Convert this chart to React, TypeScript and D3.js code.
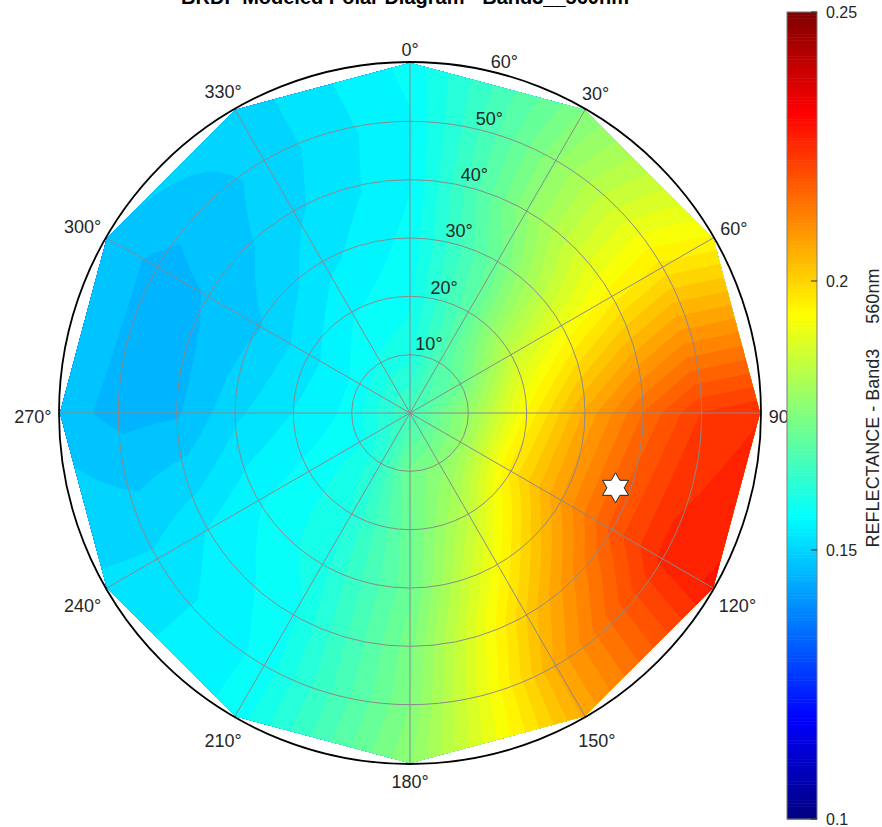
import { useEffect, useRef } from "react";
import * as d3 from "d3";

// grid of the BRDF model: view zenith (deg) x relative azimuth (deg, clockwise from north)
const zeniths = [0, 10, 20, 30, 40, 50, 60];
const azimuths = [0, 30, 60, 90, 120, 150, 180, 210, 240, 270, 300, 330];

// reflectance, one array per zenith ring (azimuth order above)
const centerValue = 0.166;
const ring10 = [0.160, 0.168, 0.172, 0.178, 0.178, 0.176, 0.173, 0.163, 0.158, 0.157, 0.157, 0.159];
const ring20 = [0.158, 0.170, 0.185, 0.194, 0.197, 0.184, 0.172, 0.161, 0.157, 0.154, 0.153, 0.156];
const ring30 = [0.157, 0.172, 0.191, 0.206, 0.208, 0.193, 0.172, 0.160, 0.156, 0.151, 0.149, 0.153];
const ring40 = [0.156, 0.177, 0.195, 0.215, 0.218, 0.201, 0.174, 0.158, 0.154, 0.1465, 0.147, 0.151];
const ring50 = [0.156, 0.177, 0.197, 0.222, 0.225, 0.206, 0.175, 0.157, 0.152, 0.146, 0.146, 0.150];
const ring60 = [0.157, 0.175, 0.194, 0.224, 0.227, 0.206, 0.177, 0.157, 0.152, 0.148, 0.149, 0.150];

const ringTicks = [10, 20, 30, 40, 50, 60];
const angleTicks = [0, 30, 60, 90, 120, 150, 180, 210, 240, 270, 300, 330];
const cbTicks = [0.1, 0.15, 0.2, 0.25];
const cbDomain = [0.1, 0.25];

// solar position marker
const sunZenith = 37.5;
const sunAzimuth = 110;

const titleText = "BRDF Modeled Polar Diagram - Band3__560nm";
const cbLabel = "REFLECTANCE - Band3     560nm";

function jet(t: number) {
  const c = (x: number) => Math.max(0, Math.min(1, x));
  const r = c(1.5 - Math.abs(4 * t - 3));
  const g = c(1.5 - Math.abs(4 * t - 2));
  const b = c(1.5 - Math.abs(4 * t - 1));
  return d3.rgb(r * 255, g * 255, b * 255).formatHex();
}

export default function App() {
  const svgRef = useRef<SVGSVGElement | null>(null);

  useEffect(() => {
    const svgEl = svgRef.current;
    if (!svgEl) return;
    const svg = d3.select(svgEl);
    svg.selectAll("*").remove();

    const width = 882;
    const height = 827;
    const cx = 410;
    const cy = 413;
    const font = "'Liberation Sans', Arial, Helvetica, sans-serif";
    const textColor = "#262626";

    const r = d3.scaleLinear().domain([0, 60]).range([0, 350]);
    const nLevels = 64;
    const thresholds = d3.range(nLevels).map((k) => cbDomain[0] + ((cbDomain[1] - cbDomain[0]) * k) / nLevels);
    const pos = (zen: number, az: number): [number, number] => {
      const a = (az * Math.PI) / 180;
      return [cx + r(zen) * Math.sin(a), cy - r(zen) * Math.cos(a)];
    };

    svg.attr("viewBox", `0 0 ${width} ${height}`);

    // values table built from the ring arrays
    const rows = [azimuths.map(() => centerValue), ring10, ring20, ring30, ring40, ring50, ring60];
    const half = Math.PI / 12; // half sector (15 deg)

    // value at a screen point: exact inverse of the straight-edged (trapezoid) bilinear cells
    const valueAt = (x: number, y: number) => {
      const dx = x - cx;
      const dy = cy - y;
      let phi = (Math.atan2(dx, dy) * 180) / Math.PI;
      if (phi < 0) phi += 360;
      const j = Math.min(azimuths.length - 1, Math.floor(phi / 30));
      const j2 = (j + 1) % azimuths.length;
      const dphi = ((phi - (azimuths[j] + 15)) * Math.PI) / 180;
      const dist = Math.hypot(dx, dy);
      const rho = (dist * Math.cos(dphi)) / Math.cos(half);
      const zen = Math.min(60, r.invert(rho));
      const i = Math.min(zeniths.length - 2, Math.floor(zen / 10));
      const s = (zen - zeniths[i]) / 10;
      const t = (Math.tan(dphi) + Math.tan(half)) / (2 * Math.tan(half));
      const v00 = rows[i][j], v01 = rows[i][j2], v10 = rows[i + 1][j], v11 = rows[i + 1][j2];
      return (1 - s) * (1 - t) * v00 + s * (1 - t) * v10 + (1 - s) * t * v01 + s * t * v11;
    };

    const step = 2;
    const x0 = cx - 356;
    const y0 = cy - 356;
    const nx = 357;
    const ny = 357;
    const grid = new Array(nx * ny);
    for (let gy = 0; gy < ny; gy++) {
      for (let gx = 0; gx < nx; gx++) {
        grid[gy * nx + gx] = valueAt(x0 + gx * step, y0 + gy * step);
      }
    }
    const contours = d3.contours().size([nx, ny]).thresholds(thresholds)(grid);

    // clip to the 12-gon of the outer ring
    const outline = azimuths.map((a) => pos(60, a));
    svg
      .append("defs")
      .append("clipPath")
      .attr("id", "brdf-clip")
      .append("path")
      .attr("d", d3.line()(outline) + "Z");

    const gFill = svg.append("g").attr("clip-path", "url(#brdf-clip)");
    gFill
      .append("g")
      .attr("transform", `translate(${x0 - step / 2},${y0 - step / 2}) scale(${step})`)
      .selectAll("path")
      .data(contours)
      .join("path")
      .attr("d", d3.geoPath())
      .attr("fill", (d, k) => jet(k / (nLevels - 1)));

    // grid
    const gGrid = svg.append("g").attr("fill", "none").attr("stroke", "#8a8a8a").attr("stroke-width", 1);
    gGrid
      .selectAll("circle")
      .data(ringTicks.slice(0, -1))
      .join("circle")
      .attr("cx", cx)
      .attr("cy", cy)
      .attr("r", (d) => r(d));
    gGrid
      .selectAll("line")
      .data(angleTicks)
      .join("line")
      .attr("x1", cx)
      .attr("y1", cy)
      .attr("x2", (d) => pos(60, d)[0])
      .attr("y2", (d) => pos(60, d)[1]);

    // outer boundary
    svg
      .append("circle")
      .attr("cx", cx)
      .attr("cy", cy)
      .attr("r", r(60) + 1)
      .attr("fill", "none")
      .attr("stroke", "#000")
      .attr("stroke-width", 1.8);

    // sun marker (hexagram)
    const [sx, sy] = pos(sunZenith, sunAzimuth);
    const R = 15;
    const starPts: [number, number][] = d3.range(12).map((k) => {
      const rad = k % 2 === 0 ? R : R / Math.sqrt(3);
      const a = -Math.PI / 2 + (k * Math.PI) / 6;
      return [sx + rad * Math.cos(a), sy + rad * Math.sin(a)];
    });
    svg
      .append("path")
      .attr("d", d3.line()(starPts) + "Z")
      .attr("fill", "#fff")
      .attr("stroke", "#222")
      .attr("stroke-width", 1);

    // ring labels along azimuth 15
    svg
      .append("g")
      .selectAll("text")
      .data(ringTicks)
      .join("text")
      .attr("x", (d) => cx + (r(d) + 15) * Math.sin(half))
      .attr("y", (d) => cy - (r(d) + 15) * Math.cos(half) + 2)
      .attr("text-anchor", "middle")
      .attr("dominant-baseline", "central")
      .attr("font-family", font)
      .attr("font-size", 18)
      .attr("fill", textColor)
      .text((d) => `${d}°`);

    // azimuth labels
    svg
      .append("g")
      .selectAll("text")
      .data(angleTicks)
      .join("text")
      .each(function (d) {
        const label = `${d}°`;
        const a = (d * Math.PI) / 180;
        const hw = label.length * 4.8;
        const rr = r(60) + 8 + Math.abs(Math.sin(a)) * hw + Math.abs(Math.cos(a)) * 7;
        d3.select(this)
          .attr("x", cx + rr * Math.sin(a))
          .attr("y", cy - rr * Math.cos(a) + 4 - 2 * Math.max(0, Math.cos(a)))
          .text(label);
      })
      .attr("text-anchor", "middle")
      .attr("dominant-baseline", "central")
      .attr("font-family", font)
      .attr("font-size", 18)
      .attr("fill", textColor);

    // title (clipped at the top edge as in the source)
    svg
      .append("text")
      .attr("x", 405)
      .attr("y", 4)
      .attr("text-anchor", "middle")
      .attr("font-family", font)
      .attr("font-weight", "bold")
      .attr("font-size", 20)
      .attr("fill", "#000")
      .text(titleText);

    // colorbar
    const cbX = 787;
    const cbW = 30;
    const y = d3.scaleLinear().domain(cbDomain).range([819, 12]);
    const cNorm = d3.scaleLinear().domain(cbDomain).range([0, 1]);
    const nCb = 256;
    const dv = (cbDomain[1] - cbDomain[0]) / nCb;
    const cbSteps = d3.range(nCb).map((k) => cbDomain[0] + dv * k);
    const gCb = svg.append("g");
    gCb
      .selectAll("rect")
      .data(cbSteps)
      .join("rect")
      .attr("x", cbX)
      .attr("width", cbW)
      .attr("y", (d) => y(d + dv))
      .attr("height", (d) => y(d) - y(d + dv) + 0.5)
      .attr("fill", (d) => jet(cNorm(d + dv / 2)));
    gCb
      .append("rect")
      .attr("x", cbX)
      .attr("y", y(cbDomain[1]))
      .attr("width", cbW)
      .attr("height", y(cbDomain[0]) - y(cbDomain[1]))
      .attr("fill", "none")
      .attr("stroke", "#7a7a7a")
      .attr("stroke-width", 1);
    gCb
      .selectAll("line.tick")
      .data(cbTicks)
      .join("line")
      .attr("class", "tick")
      .attr("x1", cbX + cbW)
      .attr("x2", cbX + cbW - 6)
      .attr("y1", (d) => y(d))
      .attr("y2", (d) => y(d))
      .attr("stroke", "#262626")
      .attr("stroke-width", 1);
    gCb
      .selectAll("text.tl")
      .data(cbTicks)
      .join("text")
      .attr("class", "tl")
      .attr("x", cbX + cbW + 9)
      .attr("y", (d) => y(d))
      .attr("dominant-baseline", "central")
      .attr("font-family", font)
      .attr("font-size", 16)
      .attr("fill", textColor)
      .text((d) => String(d));
    gCb
      .append("text")
      .attr("transform", `translate(879,408) rotate(-90)`)
      .attr("text-anchor", "middle")
      .attr("font-family", font)
      .attr("font-size", 18)
      .attr("fill", textColor)
      .style("white-space", "pre")
      .text(cbLabel);
  }, []);

  return (
    <svg
      ref={svgRef}
      width={882}
      height={827}
      style={{ position: "absolute", left: 0, top: 0, display: "block", background: "#fff" }}
    />
  );
}
